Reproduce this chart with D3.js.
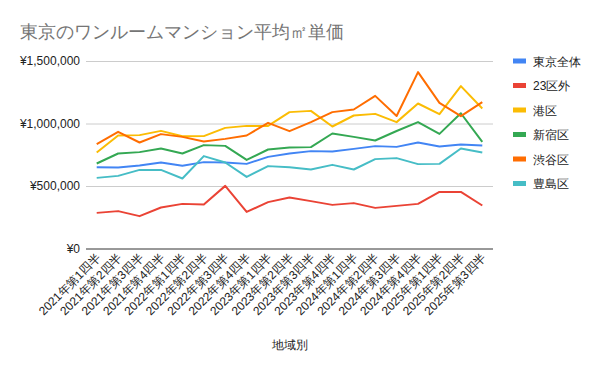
<!DOCTYPE html>
<html><head><meta charset="utf-8">
<script src="https://cdn.jsdelivr.net/npm/d3@7"></script>
<style>body{margin:0;background:#fff;} text{font-family:"Liberation Sans",Arial,sans-serif;}</style>
</head><body><svg id="c" width="600" height="371"></svg>
<script>
const categories = ["2021年第1四半","2021年第2四半","2021年第3四半","2021年第4四半","2022年第1四半","2022年第2四半","2022年第3四半","2022年第4四半","2023年第1四半","2023年第2四半","2023年第3四半","2023年第4四半","2024年第1四半","2024年第2四半","2024年第3四半","2024年第4四半","2025年第1四半","2025年第2四半","2025年第3四半"];
const seriesNames = ["東京全体","23区外","港区","新宿区","渋谷区","豊島区"];
const seriesColors = ["#4285F4","#EA4335","#FBBC04","#34A853","#FF6D01","#46BDC6"];
const tokyoAll = [650000,648000,664000,688000,662000,691000,688000,677000,733000,760000,779000,776000,797000,819000,813000,848000,816000,832000,824000];
const outside23 = [285000,299000,259000,328000,357000,352000,501000,293000,371000,408000,379000,349000,363000,325000,341000,357000,453000,453000,344000];
const minato = [768000,904000,907000,941000,898000,899000,965000,981000,981000,1091000,1101000,976000,1064000,1077000,1011000,1160000,1075000,1299000,1120000];
const shinjuku = [680000,760000,771000,800000,760000,827000,821000,709000,792000,808000,811000,920000,893000,864000,940000,1011000,917000,1082000,853000];
const shibuya = [835000,933000,848000,915000,893000,856000,877000,904000,1005000,939000,1011000,1091000,1112000,1221000,1060000,1411000,1165000,1059000,1171000];
const toshima = [565000,581000,629000,629000,560000,739000,688000,573000,659000,650000,632000,669000,632000,715000,723000,675000,677000,800000,768000];
const yTicks = [0,500000,1000000,1500000];
const titleText = "東京のワンルームマンション平均㎡単価";
const xTitle = "地域別";

const series = [tokyoAll,outside23,minato,shinjuku,shibuya,toshima];
const svg = d3.select("#c");
const L=86,R=493,T=61,B=248.5;
const x = d3.scalePoint().domain(categories).range([L,R]).padding(0.5);
const y = d3.scaleLinear().domain([0,1500000]).range([B,T]);

svg.append("text").attr("x",20).attr("y",38).attr("font-size",18).attr("fill","#757575").text(titleText);

const fmt = v => "¥" + d3.format(",")(v);
const yAxis = svg.append("g").attr("transform",`translate(${L},0)`)
  .call(d3.axisLeft(y).tickValues(yTicks).tickFormat(fmt).tickSize(-(R-L)).tickPadding(6));
yAxis.select(".domain").remove();
yAxis.selectAll(".tick line").attr("stroke","#cccccc");
yAxis.selectAll(".tick").filter(d=>d===0).select("line").attr("stroke","#333333");
yAxis.selectAll("text").attr("font-size",12).attr("fill","#222").attr("font-family","Liberation Sans, Arial, sans-serif");

const xAxis = svg.append("g").attr("transform",`translate(0,${B})`)
  .call(d3.axisBottom(x).tickSize(0));
xAxis.select(".domain").remove();
xAxis.selectAll("text").attr("font-size",12).attr("fill","#222")
  .attr("font-family","Liberation Sans, Arial, sans-serif")
  .attr("text-anchor","end").attr("dy",null).attr("y",0)
  .attr("transform","translate(4,10) rotate(-45)");

svg.append("text").attr("x",290).attr("y",349).attr("text-anchor","middle").attr("font-size",12).attr("fill","#222").text(xTitle);

const line = d3.line().x((d,i)=>x(categories[i])).y(d=>y(d));
series.forEach((s,k)=>{
  svg.append("path").datum(s).attr("d",line).attr("fill","none")
    .attr("stroke",seriesColors[k]).attr("stroke-width",2).attr("stroke-linejoin","round");
});

const lg = svg.append("g");
seriesNames.forEach((n,k)=>{
  const yy = 61 + k*24.5;
  lg.append("rect").attr("x",513).attr("y",yy-2.5).attr("width",13).attr("height",5).attr("fill",seriesColors[k]);
  lg.append("text").attr("x",533).attr("y",yy+4.5).attr("font-size",12).attr("fill","#222").text(n);
});
</script></body></html>
